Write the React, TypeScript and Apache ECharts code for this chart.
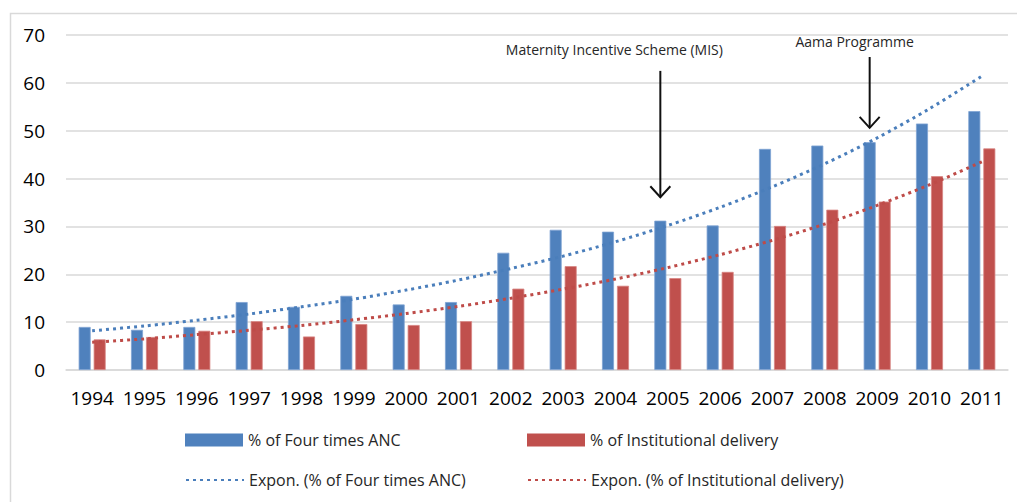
import React, { useEffect, useRef } from 'react';
import * as echarts from 'echarts';

const years = ['1994', '1995', '1996', '1997', '1998', '1999', '2000', '2001', '2002', '2003', '2004', '2005', '2006', '2007', '2008', '2009', '2010', '2011'];
const ancValues = [9.0, 8.4, 9.0, 14.2, 13.2, 15.5, 13.7, 14.2, 24.5, 29.3, 28.9, 31.2, 30.2, 46.2, 46.9, 47.6, 51.5, 54.1];
const deliveryValues = [6.4, 6.9, 8.2, 10.2, 7.0, 9.6, 9.4, 10.2, 17.0, 21.7, 17.6, 19.2, 20.5, 30.1, 33.5, 35.2, 40.5, 46.3];
const ancTrend = [8.2, 9.2, 10.4, 11.7, 13.2, 14.8, 16.7, 18.8, 21.2, 23.8, 26.8, 30.2, 34.0, 38.3, 43.1, 48.5, 54.6, 61.4];
const deliveryTrend = [5.8, 6.5, 7.4, 8.3, 9.3, 10.5, 11.8, 13.3, 15.0, 16.9, 19.0, 21.4, 24.1, 27.1, 30.5, 34.4, 38.7, 43.5];
const yTicks = { min: 0, max: 70, interval: 10 };
const annotations = [
  { label: 'Maternity Incentive Scheme (MIS)', year: '2005', arrowTop: 62.5, arrowTip: 36.1, textValue: 66.9, textShift: -46 },
  { label: 'Aama Programme', year: '2009', arrowTop: 65.4, arrowTip: 50.6, textValue: 68.6, textShift: -15 },
];

const NAME_ANC = '% of Four times ANC';
const NAME_DEL = '% of Institutional delivery';
const NAME_ANC_T = 'Expon. (% of Four times ANC)';
const NAME_DEL_T = 'Expon. (% of Institutional delivery)';

const BLUE = '#4F81BD';
const RED = '#C0504D';
const FONT = '"Open Sans", "Noto Sans", sans-serif';

export default function App() {
  const ref = useRef<HTMLDivElement>(null);
  useEffect(() => {
    document.body.style.margin = '0';
    const chart = echarts.init(ref.current!, undefined, { renderer: 'svg' });
    const legendCommon = {
      itemWidth: 58,
      itemHeight: 13,
      itemGap: 5,
      padding: 0,
      selectedMode: false,
      textStyle: { fontSize: 16, fontFamily: FONT, color: '#262626' },
    };
    chart.setOption({
      animation: false,
      grid: { left: 66, right: 9, top: 35, bottom: 132 },
      legend: [
        { ...legendCommon, data: [{ name: NAME_ANC, icon: 'rect' }], left: 185, top: 432, itemStyle: { borderWidth: 0 } },
        { ...legendCommon, data: [{ name: NAME_DEL, icon: 'rect' }], left: 527, top: 432, itemStyle: { borderWidth: 0 } },
        { ...legendCommon, data: [NAME_ANC_T], left: 185, top: 472, itemStyle: { opacity: 0 } },
        { ...legendCommon, data: [NAME_DEL_T], left: 527, top: 472, itemStyle: { opacity: 0 } },
      ],
      xAxis: {
        type: 'category',
        data: years,
        axisTick: { show: false },
        axisLine: { lineStyle: { color: '#D9D9D9', width: 1.5 } },
        axisLabel: { interval: 0, fontSize: 19, fontFamily: FONT, color: '#000', margin: 18 },
      },
      yAxis: {
        type: 'value',
        min: yTicks.min,
        max: yTicks.max,
        interval: yTicks.interval,
        axisLine: { show: false },
        axisTick: { show: false },
        splitLine: { lineStyle: { color: '#D9D9D9', width: 1.5 } },
        axisLabel: { fontSize: 19, fontFamily: FONT, color: '#000', margin: 21 },
      },
      series: [
        {
          name: NAME_ANC, type: 'bar', data: ancValues, barWidth: 12, barGap: '25%',
          itemStyle: { color: BLUE, borderColor: '#7FA3D3', borderWidth: 0.8 },
        },
        {
          name: NAME_DEL, type: 'bar', data: deliveryValues, barWidth: 12, barGap: '25%',
          itemStyle: { color: RED, borderColor: '#D88583', borderWidth: 0.8 },
        },
        {
          name: NAME_ANC_T, type: 'line', data: ancTrend, symbol: 'none', smooth: 0.3, z: 5,
          lineStyle: { color: '#4A7EBB', width: 3, type: [3, 4] },
          itemStyle: { color: '#4A7EBB' },
        },
        {
          name: NAME_DEL_T, type: 'line', data: deliveryTrend, symbol: 'none', smooth: 0.3, z: 5,
          lineStyle: { color: '#BE4B48', width: 3, type: [3, 4] },
          itemStyle: { color: '#BE4B48' },
        },
      ],
    });

    const elements: any[] = [
      {
        type: 'rect', left: 8, top: 11, z: -1,
        shape: { width: 1100, height: 600 },
        style: { fill: 'none', stroke: '#D9D9D9', lineWidth: 1.5 },
      },
    ];
    annotations.forEach((a) => {
      const top = chart.convertToPixel({ xAxisIndex: 0, yAxisIndex: 0 }, [a.year, a.arrowTop]) as number[];
      const tip = chart.convertToPixel({ xAxisIndex: 0, yAxisIndex: 0 }, [a.year, a.arrowTip]) as number[];
      const txt = chart.convertToPixel({ xAxisIndex: 0, yAxisIndex: 0 }, [a.year, a.textValue]) as number[];
      const x = top[0] - 7.5;
      elements.push({
        type: 'line', z: 10,
        shape: { x1: x, y1: top[1], x2: x, y2: tip[1] },
        style: { stroke: '#111', lineWidth: 2 },
      });
      elements.push({
        type: 'polyline', z: 10,
        shape: { points: [[x - 10, tip[1] - 11], [x, tip[1]], [x + 10, tip[1] - 11]] },
        style: { stroke: '#111', lineWidth: 2, fill: 'none' },
      });
      elements.push({
        type: 'text', z: 10, x: x + a.textShift, y: txt[1],
        style: {
          text: a.label, fontSize: 14, fontFamily: FONT, fill: '#262626',
          align: 'center', verticalAlign: 'middle',
        },
      });
    });
    chart.setOption({ graphic: { elements } });

    return () => chart.dispose();
  }, []);
  return <div ref={ref} style={{ width: 1017, height: 502 }} />;
}
